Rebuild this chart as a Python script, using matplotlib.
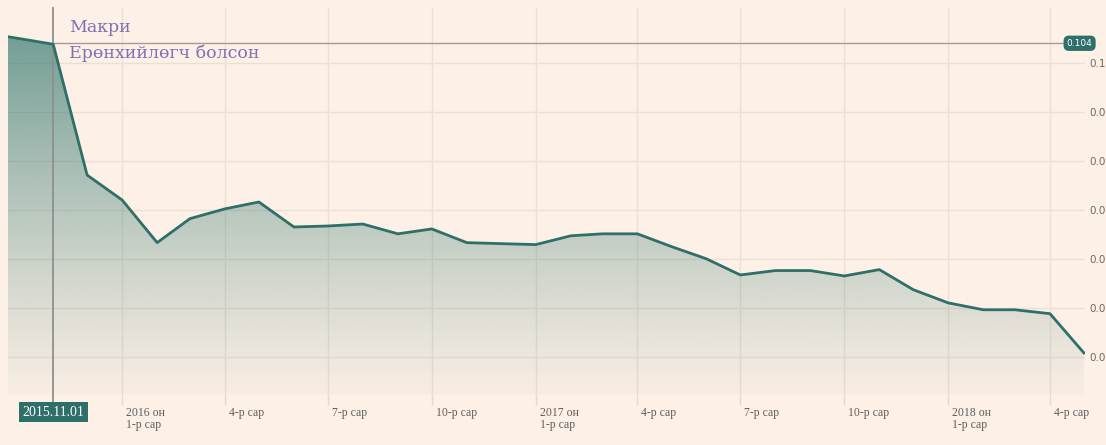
import matplotlib
matplotlib.use("Agg")
import matplotlib.pyplot as plt
import matplotlib.dates as mdates
import matplotlib.transforms as mtransforms
import numpy as np
import pandas as pd

# Monthly values
months = ["2015-09-01", "2015-10-01", "2015-11-01", "2015-12-01",
          "2016-01-01", "2016-02-01", "2016-03-01", "2016-04-01", "2016-05-01", "2016-06-01",
          "2016-07-01", "2016-08-01", "2016-09-01", "2016-10-01", "2016-11-01", "2016-12-01",
          "2017-01-01", "2017-02-01", "2017-03-01", "2017-04-01", "2017-05-01", "2017-06-01",
          "2017-07-01", "2017-08-01", "2017-09-01", "2017-10-01", "2017-11-01", "2017-12-01",
          "2018-01-01", "2018-02-01", "2018-03-01", "2018-04-01", "2018-05-01"]
values = [0.1061, 0.1050, 0.1038, 0.0771,
          0.0720, 0.0633, 0.0682, 0.0702, 0.0716, 0.0665,
          0.0667, 0.0671, 0.0651, 0.0661, 0.0633, 0.0631,
          0.0629, 0.0647, 0.0651, 0.0651, 0.0625, 0.0600,
          0.0567, 0.0576, 0.0576, 0.0565, 0.0578, 0.0537,
          0.0510, 0.0496, 0.0496, 0.0488, 0.0408]

tick_dates = ["2016-01-01", "2016-04-01", "2016-07-01", "2016-10-01", "2017-01-01",
              "2017-04-01", "2017-07-01", "2017-10-01", "2018-01-01", "2018-04-01"]
tick_labels = ["2016 он\n1-р сар", "4-р сар", "7-р сар", "10-р сар", "2017 он\n1-р сар",
               "4-р сар", "7-р сар", "10-р сар", "2018 он\n1-р сар", "4-р сар"]
y_ticks = [0.04, 0.05, 0.06, 0.07, 0.08, 0.09, 0.10]
# labels as they appear (cut short at the right edge in the source)
y_tick_labels = ["0.0", "0.0", "0.0", "0.0", "0.0", "0.0", "0.1"]

event_date = "2015-11-01"
event_value = 0.104
event_text = ["Макри", "Ерөнхийлөгч болсон"]

BG = "#fdf0e6"
TEAL = "#2f6f69"
GRID = "#eddfd3"
SERIF = ["Liberation Serif", "DejaVu Serif"]

dates = pd.to_datetime(months)
xnum = mdates.date2num(dates)
vals = np.array(values)

fig = plt.figure(figsize=(11.06, 4.45), dpi=100)
fig.patch.set_facecolor(BG)
ax = fig.add_axes([8 / 1106, 50 / 445, 1077 / 1106, 387 / 445])
ax.set_facecolor(BG)
ax.set_axisbelow(True)

x0 = mdates.date2num(pd.Timestamp("2015-09-22"))
x1 = mdates.date2num(pd.Timestamp("2018-05-02"))
y0, y1 = 0.0322, 0.1112
ax.set_xlim(x0, x1)
ax.set_ylim(y0, y1)

for s in ax.spines.values():
    s.set_visible(False)

# gridlines
ax.set_yticks(y_ticks)
ax.set_xticks(mdates.date2num(pd.to_datetime(tick_dates)))
ax.grid(True, color=GRID, linewidth=1.0)
ax.tick_params(axis="x", length=7, color="#e6d8cc", width=1.0, labelbottom=False)
ax.tick_params(axis="y", length=0, labelleft=False, labelright=True, pad=3,
               labelsize=7.5, labelcolor="#6a6a6a")
ax.set_yticklabels(y_tick_labels)

# gradient fill under the line
poly = ax.fill_between(xnum, vals, y0, color="none", zorder=1)
grad = np.zeros((256, 1, 4))
teal_rgb = np.array([46, 118, 110]) / 255.0
grad[:, 0, :3] = teal_rgb
grad[:, 0, 3] = np.linspace(0.72, 0.04, 256) ** 1.15
img = ax.imshow(grad, extent=[x0, x1, y0, 0.107], origin="upper", aspect="auto", zorder=1)
path = poly.get_paths()[0]
img.set_clip_path(path, transform=ax.transData)

ax.plot(xnum, vals, color=TEAL, linewidth=2.0, zorder=3, solid_joinstyle="round")

# event markers
ev = mdates.date2num(pd.Timestamp(event_date))
ax.axvline(ev, ymin=-0.02, ymax=1.0, color="#8f8f8f", linewidth=1.3, zorder=2, clip_on=False)
ax.plot([ev, x1], [event_value, event_value], color="#a89a92", linewidth=1.0, zorder=2)
ax.text(0.995, event_value, f"{event_value:.3f}", transform=ax.get_yaxis_transform(),
        ha="center", va="center", fontsize=6.5, color="white", zorder=5, clip_on=False,
        bbox=dict(boxstyle="round,pad=0.35,rounding_size=0.6", facecolor=TEAL, edgecolor="none"))

off = mtransforms.ScaledTranslation(16 / 100, 0, fig.dpi_scale_trans)
ax.text(ev, 0.1073, event_text[0], transform=ax.transData + off, fontsize=12.5,
        color="#8070b2", family=["DejaVu Serif"], ha="left", va="center", zorder=6)
ax.text(ev, 0.1019, event_text[1], transform=ax.transData + off, fontsize=12.5,
        color="#8070b2", family=["DejaVu Serif"], ha="left", va="center", zorder=6)

# x labels
xt = ax.get_xaxis_transform()
lab_off = mtransforms.ScaledTranslation(4 / 100, 0, fig.dpi_scale_trans)
for d, lab in zip(tick_dates, tick_labels):
    ax.text(mdates.date2num(pd.Timestamp(d)), -0.032, lab, transform=xt + lab_off,
            ha="left", va="top", fontsize=8.5, color="#5e5e5e", family=SERIF,
            linespacing=0.95, clip_on=False)
ax.text(ev, -0.044, pd.Timestamp(event_date).strftime("%Y.%m.%d"), transform=xt,
        ha="center", va="center", fontsize=10, color="white", family=SERIF, clip_on=False,
        bbox=dict(boxstyle="square,pad=0.25", facecolor=TEAL, edgecolor="none"))

fig.savefig("out.png", dpi=100, facecolor=fig.get_facecolor())
